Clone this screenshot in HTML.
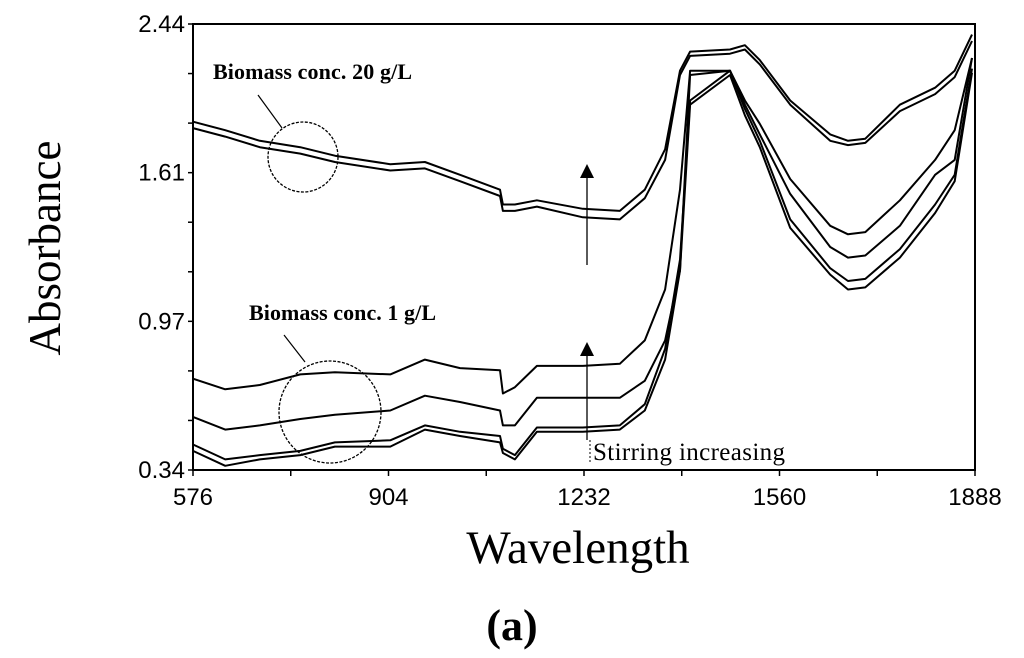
<!DOCTYPE html>
<html><head><meta charset="utf-8"><style>
html,body{margin:0;padding:0;background:#fff;}
svg{display:block;}
</style></head><body>
<svg id="chart" width="1024" height="658" viewBox="0 0 1024 658">
<text x="45" y="248" transform="rotate(-90 45 248)" text-anchor="middle" dominant-baseline="central" font-family="Liberation Serif, serif" font-size="45">Absorbance</text>
<text x="578" y="563" text-anchor="middle" font-family="Liberation Serif, serif" font-size="47">Wavelength</text>
<text x="512" y="640" text-anchor="middle" font-family="Liberation Serif, serif" font-size="44" font-weight="bold">(a)</text>
<g id="axes"></g>
<g id="series"></g>
<g>
<text x="213" y="79" font-family="Liberation Serif, serif" font-size="22" font-weight="bold" textLength="199">Biomass conc. 20 g/L</text>
<line x1="258" y1="95" x2="282" y2="128" stroke="#000" stroke-width="1.2"/>
<circle cx="303" cy="157" r="35" fill="none" stroke="#000" stroke-width="1.3" stroke-dasharray="3 1.5"/>
<text x="249" y="320" font-family="Liberation Serif, serif" font-size="22" font-weight="bold" textLength="187">Biomass conc. 1 g/L</text>
<line x1="284" y1="335" x2="305" y2="362" stroke="#000" stroke-width="1.2"/>
<circle cx="330" cy="412" r="51" fill="none" stroke="#000" stroke-width="1.3" stroke-dasharray="3 1.5"/>
<line x1="587" y1="265" x2="587" y2="178" stroke="#000" stroke-width="1.3"/>
<polygon points="580,178 594,178 587,164" fill="#000"/>
<line x1="587" y1="440" x2="587" y2="355" stroke="#000" stroke-width="1.3"/>
<polygon points="580,356 594,356 587,342" fill="#000"/>
<line x1="590" y1="440" x2="590" y2="462" stroke="#000" stroke-width="1" stroke-dasharray="2 2"/>
<text x="593" y="460" font-family="Liberation Serif, serif" font-size="25" textLength="192">Stirring increasing</text>
</g>
</svg>
<script>
const wavelengths=[576,630,688,756,814,907,965,1024,1091,1096,1116,1153,1230,1292,1334,1368,1393,1410,1477,1502,1527,1578,1645,1675,1704,1762,1821,1854,1883];
const high1=[1.98,1.94,1.89,1.86,1.82,1.78,1.79,1.73,1.66,1.59,1.59,1.61,1.57,1.56,1.66,1.85,2.22,2.31,2.32,2.34,2.27,2.08,1.92,1.89,1.90,2.06,2.14,2.22,2.39];
const high2=[1.95,1.91,1.86,1.83,1.79,1.75,1.76,1.70,1.63,1.56,1.56,1.58,1.53,1.52,1.62,1.80,2.20,2.29,2.30,2.32,2.25,2.06,1.89,1.87,1.88,2.03,2.11,2.19,2.36];
const low1=[0.77,0.72,0.74,0.79,0.80,0.79,0.86,0.82,0.81,0.70,0.73,0.83,0.83,0.84,0.95,1.19,1.66,2.22,2.22,2.08,1.97,1.71,1.49,1.45,1.46,1.61,1.80,1.94,2.28];
const low2=[0.59,0.53,0.55,0.58,0.60,0.62,0.69,0.66,0.62,0.55,0.55,0.68,0.68,0.68,0.76,0.95,1.28,2.20,2.22,2.06,1.92,1.64,1.39,1.34,1.35,1.49,1.73,1.80,2.28];
const low3=[0.46,0.39,0.41,0.43,0.47,0.48,0.55,0.52,0.50,0.44,0.41,0.54,0.54,0.55,0.65,0.91,1.33,2.08,2.22,2.04,1.89,1.52,1.29,1.23,1.24,1.38,1.59,1.73,2.23];
const low4=[0.43,0.36,0.39,0.41,0.45,0.45,0.53,0.50,0.47,0.42,0.39,0.52,0.52,0.53,0.62,0.86,1.28,2.06,2.20,2.01,1.86,1.48,1.26,1.19,1.20,1.34,1.55,1.70,2.21];
const xTickLabels=["576","904","1232","1560","1888"];
const yTickLabels=["0.34","0.97","1.61","2.44"];
const NS="http://www.w3.org/2000/svg";
const L=193,R=975,T=24,B=470;
const xMin=576,xMax=1888,yMin=0.34,yMax=2.44;
function xs(v){return L+(v-xMin)/(xMax-xMin)*(R-L);}
function ys(v){return B-(v-yMin)/(yMax-yMin)*(B-T);}
function mk(tag,attrs,parent){const e=document.createElementNS(NS,tag);for(const k in attrs)e.setAttribute(k,attrs[k]);parent.appendChild(e);return e;}
const axes=document.getElementById('axes');
const frame=mk('rect',{x:L,y:T,width:R-L,height:B-T,fill:'none',stroke:'#000','stroke-width':2},axes);


const nx=xTickLabels.length;
for(let i=0;i<(nx-1)*2+1;i++){
  const px=L+i*(R-L)/((nx-1)*2);
  mk('line',{x1:px,y1:B,x2:px,y2:B+6,stroke:'#000','stroke-width':1.5},axes);
}
xTickLabels.forEach((t,i)=>{
  const px=xs(Number(t));
  const tx=mk('text',{x:px,y:505,'text-anchor':'middle','font-family':'Liberation Sans, sans-serif','font-size':24},axes);
  tx.textContent=t;
  
  
});
for(let i=0;i<10;i++){
  const py=B-i*(B-T)/9;
  mk('line',{x1:L-5,y1:py,x2:L,y2:py,stroke:'#000','stroke-width':1.5},axes);
}
yTickLabels.forEach((t,i)=>{
  const py=B-i*3*(B-T)/9;
  const tx=mk('text',{x:185,y:py+8,'text-anchor':'end','font-family':'Liberation Sans, sans-serif','font-size':24},axes);
  tx.textContent=t;
  
  
});
const series=document.getElementById('series');
const all=[['high-conc-line-1',high1],['high-conc-line-2',high2],['low-conc-line-1',low1],['low-conc-line-2',low2],['low-conc-line-3',low3],['low-conc-line-4',low4]];
all.forEach(([name,vals])=>{
  const d=vals.map((v,i)=>(i?'L':'M')+xs(wavelengths[i]).toFixed(1)+' '+ys(v).toFixed(1)).join(' ');
  const p=mk('path',{d:d,fill:'none',stroke:'#000','stroke-width':2,'stroke-linejoin':'round'},series);
  
  
});
</script>
</body></html>
